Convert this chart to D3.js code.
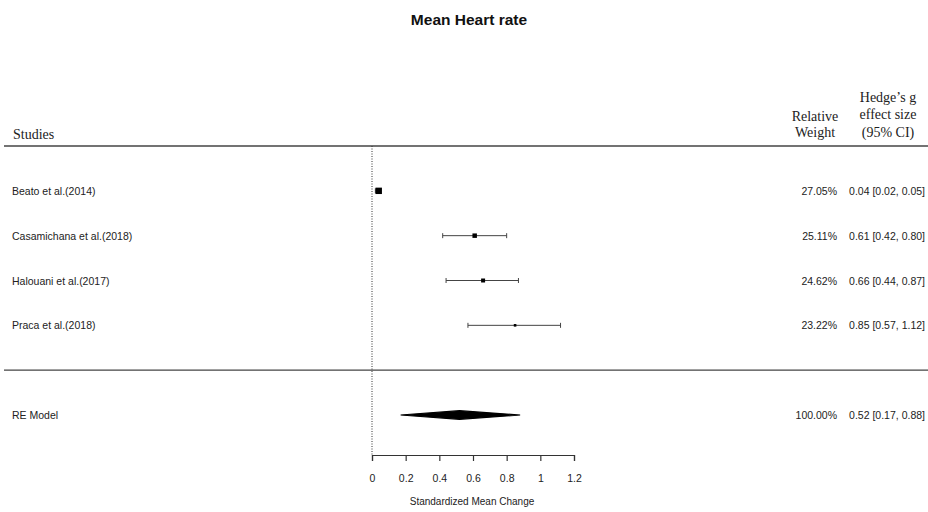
<!DOCTYPE html>
<html><head><meta charset="utf-8">
<script src="https://cdn.jsdelivr.net/npm/d3@7"></script>
<style>body{margin:0;background:#fff}</style>
</head><body>
<script>
const title = "Mean Heart rate";
const studies = ["Beato et al.(2014)", "Casamichana et al.(2018)", "Halouani et al.(2017)", "Praca et al.(2018)"];
const estimates = [0.04, 0.61, 0.66, 0.85];
const ciLower = [0.02, 0.42, 0.44, 0.57];
const ciUpper = [0.05, 0.80, 0.87, 1.12];
const weights = [27.05, 25.11, 24.62, 23.22];
const modelLabel = "RE Model";
const modelEstimate = 0.52, modelLower = 0.17, modelUpper = 0.88, modelWeight = 100.00;
const tickValues = [0, 0.2, 0.4, 0.6, 0.8, 1, 1.2];
const tickLabels = ["0", "0.2", "0.4", "0.6", "0.8", "1", "1.2"];
const xLabel = "Standardized Mean Change";

const W = 928, H = 512;
const svg = d3.select("body").append("svg").attr("width", W).attr("height", H)
  .style("font-family", "'Liberation Sans', Arial, sans-serif");

const x = d3.scaleLinear().domain([0, 1.2]).range([372, 574]);
// row units: studies at k..1, separator 0, model -1, header k+1
const k = studies.length;
const y = d3.scaleLinear().domain([k + 1, -1]).range([146, 415]);
const sizeScale = d3.scaleLinear().domain(d3.extent(weights)).range([2.6, 6.4]);
const fmt = d3.format(".2f");
const txtCol = "#222";

svg.append("text").attr("x", 469).attr("y", 25).attr("text-anchor", "middle")
  .attr("font-weight", "bold").attr("font-size", 15.5).attr("fill", "#111").text(title);

// header
const serif = "'Liberation Serif', 'Times New Roman', serif";
svg.append("text").attr("x", 13).attr("y", 139).attr("font-family", serif).attr("font-size", 14).attr("fill", txtCol).text("Studies");
[["Relative", 121], ["Weight", 137]].forEach(([t, yy]) =>
  svg.append("text").attr("x", 815).attr("y", yy).attr("text-anchor", "middle").attr("font-family", serif).attr("font-size", 14).attr("fill", txtCol).text(t));
[["Hedge\u2019s g", 102], ["effect size", 119], ["(95% CI)", 137]].forEach(([t, yy]) =>
  svg.append("text").attr("x", 888).attr("y", yy).attr("text-anchor", "middle").attr("font-family", serif).attr("font-size", 14).attr("fill", txtCol).text(t));

// separator lines
[k + 1, 0].forEach(r =>
  svg.append("line").attr("x1", 4).attr("x2", W).attr("y1", y(r)).attr("y2", y(r))
    .attr("stroke", "#444").attr("stroke-width", 1.4));

// reference line
svg.append("line").attr("x1", x(0)).attr("x2", x(0)).attr("y1", y(k + 1)).attr("y2", 455)
  .attr("stroke", "#333").attr("stroke-width", 1).attr("stroke-dasharray", "1,1.5");

// studies
studies.forEach((s, i) => {
  const yy = y(k - i);
  svg.append("text").attr("x", 12).attr("y", yy + 4).attr("font-size", 10.5).attr("fill", txtCol).text(s);
  svg.append("text").attr("x", 837).attr("y", yy + 4).attr("text-anchor", "end").attr("font-size", 10.5).attr("fill", txtCol).text(fmt(weights[i]) + "%");
  svg.append("text").attr("x", 925).attr("y", yy + 4).attr("text-anchor", "end").attr("font-size", 10.5).attr("fill", txtCol)
    .text(`${fmt(estimates[i])} [${fmt(ciLower[i])}, ${fmt(ciUpper[i])}]`);
  const g = svg.append("g").attr("stroke", "#444").attr("stroke-width", 1);
  g.append("line").attr("x1", x(ciLower[i])).attr("x2", x(ciUpper[i])).attr("y1", yy).attr("y2", yy);
  [ciLower[i], ciUpper[i]].forEach(v =>
    g.append("line").attr("x1", x(v)).attr("x2", x(v)).attr("y1", yy - 2.5).attr("y2", yy + 2.5));
  const sz = sizeScale(weights[i]);
  svg.append("rect").attr("x", x(estimates[i]) - sz / 2).attr("y", yy - sz / 2).attr("width", sz).attr("height", sz).attr("fill", "#000");
});

// model
const ym = y(-1);
svg.append("text").attr("x", 12).attr("y", ym + 4).attr("font-size", 10.5).attr("fill", txtCol).text(modelLabel);
svg.append("text").attr("x", 837).attr("y", ym + 4).attr("text-anchor", "end").attr("font-size", 10.5).attr("fill", txtCol).text(fmt(modelWeight) + "%");
svg.append("text").attr("x", 925).attr("y", ym + 4).attr("text-anchor", "end").attr("font-size", 10.5).attr("fill", txtCol)
  .text(`${fmt(modelEstimate)} [${fmt(modelLower)}, ${fmt(modelUpper)}]`);
const dh = 4.3;
svg.append("polygon")
  .attr("points", [[x(modelLower), ym], [x(modelEstimate), ym - dh], [x(modelUpper), ym], [x(modelEstimate), ym + dh]].map(p => p.join(",")).join(" "))
  .attr("fill", "#000").attr("stroke", "#000").attr("stroke-width", 1.2).attr("stroke-linejoin", "miter");

// axis
const axis = d3.axisBottom(x).tickValues(tickValues).tickFormat((d, i) => tickLabels[i]).tickSize(6).tickPadding(14);
const ag = svg.append("g").attr("transform", "translate(0,455)").call(axis);
ag.select(".domain").attr("stroke", "#333").attr("stroke-width", 1.2);
ag.selectAll(".tick line").attr("stroke", "#333").attr("stroke-width", 1.2);
ag.selectAll(".tick text").attr("font-size", 10.5).attr("fill", txtCol).attr("font-family", "'Liberation Sans', Arial, sans-serif");
svg.append("text").attr("x", 472).attr("y", 505).attr("text-anchor", "middle").attr("font-size", 10).attr("fill", txtCol).text(xLabel);
</script>
</body></html>
